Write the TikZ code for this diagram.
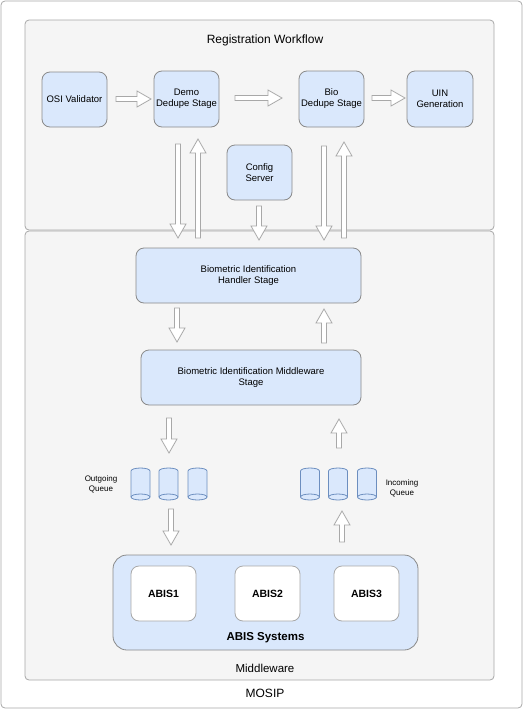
\documentclass[tikz,border=0pt]{standalone}
\usepackage{fontspec}
\setmainfont{Liberation Sans}
\usetikzlibrary{calc}

\definecolor{panelfill}{HTML}{F5F5F5}
\definecolor{panelline}{HTML}{A8A8A8}
\definecolor{stagefill}{HTML}{DAE8FC}
\definecolor{stageline}{HTML}{8A8A8A}
\definecolor{qline}{HTML}{6C8EBF}
\definecolor{arrowline}{HTML}{A8A8A8}

\tikzset{
  panel/.style={draw=panelline, fill=panelfill, rounded corners=4pt, line width=0.8pt, inner sep=0pt},
  stagebox/.style={draw=stageline, fill=stagefill, rounded corners=8pt, line width=0.8pt,
    align=center, inner sep=0pt, font=\fontsize{9.5}{11}\selectfont},
  abisbox/.style={draw=panelline, fill=white, rounded corners=8pt, line width=0.8pt,
    inner sep=0pt, minimum width=65pt, minimum height=55pt, font=\fontsize{10.5}{12}\selectfont\bfseries},
  caption/.style={inner sep=0pt, align=center},
  blockarrow/.style={draw=arrowline, fill=white, line width=0.8pt, line join=miter},
  queuecyl/.pic={
    \path[draw=qline, fill=stagefill, line width=0.8pt]
      (-9.5,-13) arc[start angle=180, end angle=0, x radius=9.5pt, y radius=3pt]
      -- (9.5,13) arc[start angle=0, end angle=-180, x radius=9.5pt, y radius=3pt] -- cycle;
    \draw[qline, line width=0.8pt]
      (9.5,13) arc[start angle=0, end angle=180, x radius=9.5pt, y radius=3pt];
  }
}

% outlined block arrow from coordinate #1 to coordinate #2
\newcommand{\blockarrow}[2]{%
  \path[blockarrow] let \p1=(#1), \p2=(#2),
      \n1={atan2(\y2-\y1,\x2-\x1)}, \n2={veclen(\x2-\x1,\y2-\y1)} in
    (\p1) ++({\n1+90}:2.5pt)
    -- ++({\n1}:{\n2*1pt-14pt})
    -- ++({\n1+90}:5.5pt)
    -- (\p2)
    -- ($(\p2)+({\n1+180}:14pt)+({\n1-90}:8pt)$)
    -- ++({\n1+90}:5.5pt)
    -- ++({\n1+180}:{\n2*1pt-14pt})
    -- cycle;
}

\begin{document}
\begin{tikzpicture}[x=1pt, y=-1pt]
  \useasboundingbox (0,0) rectangle (524,710);

  % containers
  \node[panel, fill=white, minimum width=521pt, minimum height=707pt] (mosip) at (261.5,354.5) {};
  \node[panel, minimum width=469pt, minimum height=210pt] (regwf) at (259.5,125) {};
  \node[panel, minimum width=469pt, minimum height=449pt] (midw) at (259.5,455.5) {};

  \node[caption, font=\fontsize{12}{14}\selectfont] (regtitle) at (265,40) {Registration Workflow};
  \node[caption, font=\fontsize{11.5}{14}\selectfont] (midtitle) at (265,668.5) {Middleware};
  \node[caption, font=\fontsize{12}{14}\selectfont] (mosiptitle) at (265,693.5) {MOSIP};

  % registration workflow stages
  \node[stagebox, minimum width=65pt, minimum height=55pt] (osi) at (74.5,99.5) {OSI Validator};
  \node[stagebox, minimum width=65pt, minimum height=56pt] (demo) at (186.5,99) {Demo\\Dedupe Stage};
  \node[stagebox, minimum width=65pt, minimum height=56pt] (bio) at (331.5,99) {Bio\\Dedupe Stage};
  \node[stagebox, minimum width=66pt, minimum height=56pt] (uin) at (440,99) {UIN\\Generation};
  \node[stagebox, minimum width=65pt, minimum height=55pt] (config) at (259.5,172.5) {Config\\Server};

  % middleware stages
  \node[stagebox, minimum width=225pt, minimum height=55pt] (handler) at (248.5,275.5)
    {Biometric Identification\\Handler Stage};
  \node[stagebox, minimum width=220pt, minimum height=55pt] (mwstage) at (251,377.5)
    {Biometric Identification Middleware\\Stage};

  % queues
  \pic (oq1) at (140.5,484) {queuecyl};
  \pic (oq2) at (168.5,484) {queuecyl};
  \pic (oq3) at (197.5,484) {queuecyl};
  \pic (iq1) at (310,484) {queuecyl};
  \pic (iq2) at (338,484) {queuecyl};
  \pic (iq3) at (367,484) {queuecyl};
  \node[caption, font=\fontsize{8}{10}\selectfont] (outq) at (101,484) {Outgoing\\Queue};
  \node[caption, font=\fontsize{8}{10}\selectfont] (inq) at (402,488) {Incoming\\Queue};

  % ABIS systems
  \node[stagebox, rounded corners=14pt, minimum width=305pt, minimum height=95pt] (abissys) at (265.5,602.5) {};
  \node[caption, font=\fontsize{11.5}{14}\selectfont\bfseries] (abistitle) at (265.5,637.5) {ABIS Systems};
  \node[abisbox] (abis1) at (163.5,593.5) {ABIS1};
  \node[abisbox] (abis2) at (267.5,593.5) {ABIS2};
  \node[abisbox] (abis3) at (366.5,593.5) {ABIS3};

  % arrow end points
  \coordinate (osiA) at (116,99);   \coordinate (osiB) at (151,99);
  \coordinate (demoA) at (235,98);  \coordinate (demoB) at (282,98);
  \coordinate (bioA) at (372,98);   \coordinate (bioB) at (405,98);
  \coordinate (dDownA) at (178,144); \coordinate (dDownB) at (178,238);
  \coordinate (dUpA) at (198,238);   \coordinate (dUpB) at (198,139);
  \coordinate (cfgA) at (259,206);   \coordinate (cfgB) at (259,240);
  \coordinate (bDownA) at (324,146); \coordinate (bDownB) at (324,240);
  \coordinate (bUpA) at (344,238);   \coordinate (bUpB) at (344,142);
  \coordinate (hDownA) at (177,308); \coordinate (hDownB) at (177,342);
  \coordinate (hUpA) at (324,343);   \coordinate (hUpB) at (324,309);
  \coordinate (mDownA) at (169,418); \coordinate (mDownB) at (169,453);
  \coordinate (mUpA) at (339,448);   \coordinate (mUpB) at (339,419);
  \coordinate (qDownA) at (171,509); \coordinate (qDownB) at (171,545);
  \coordinate (qUpA) at (342,542);   \coordinate (qUpB) at (342,511);

  % block arrows
  \blockarrow{osiA}{osiB}
  \blockarrow{demoA}{demoB}
  \blockarrow{bioA}{bioB}
  \blockarrow{dDownA}{dDownB}
  \blockarrow{dUpA}{dUpB}
  \blockarrow{cfgA}{cfgB}
  \blockarrow{bDownA}{bDownB}
  \blockarrow{bUpA}{bUpB}
  \blockarrow{hDownA}{hDownB}
  \blockarrow{hUpA}{hUpB}
  \blockarrow{mDownA}{mDownB}
  \blockarrow{mUpA}{mUpB}
  \blockarrow{qDownA}{qDownB}
  \blockarrow{qUpA}{qUpB}
\end{tikzpicture}
\end{document}
